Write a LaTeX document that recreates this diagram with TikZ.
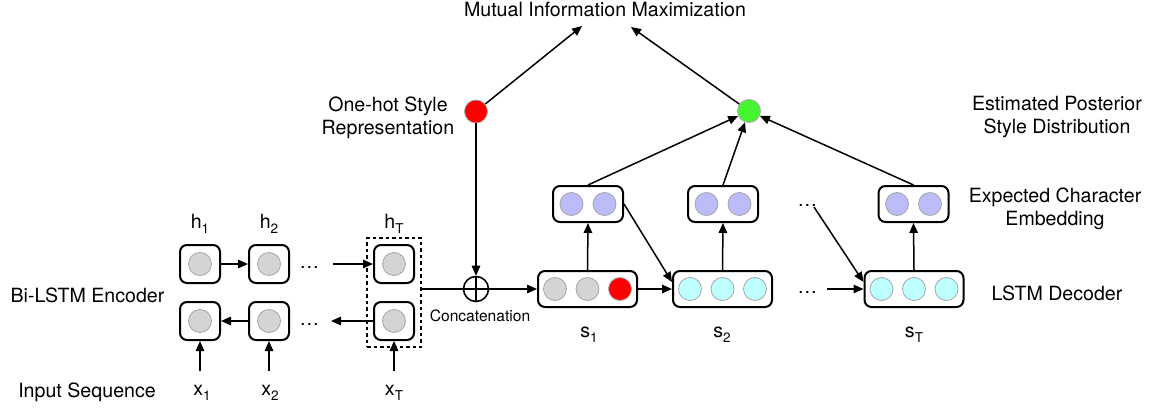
\documentclass[tikz,border=0pt]{standalone}
\usepackage{fontspec}
\setmainfont{TeX Gyre Heros}
\usetikzlibrary{arrows.meta,fit,calc}
\definecolor{cellgray}{RGB}{212,212,212}
\definecolor{rimgray}{RGB}{165,165,165}
\definecolor{cellcyan}{RGB}{190,255,255}
\definecolor{celllav}{RGB}{188,188,248}
\definecolor{hotred}{RGB}{255,0,0}
\definecolor{postgreen}{RGB}{70,245,50}
\newcommand{\lowidx}[1]{\raisebox{-0.3em}{\fontsize{13.5}{13.5}\selectfont #1}}

\begin{document}
\begin{tikzpicture}[x=1pt,y=-1pt,
  cell/.style={draw, line width=2pt, rounded corners=7pt, minimum width=40pt, minimum height=38pt, inner sep=0},
  wide/.style={cell, minimum width=99pt, minimum height=36pt},
  pair/.style={cell, minimum width=70pt, minimum height=36pt},
  unit/.style={circle, draw=rimgray, line width=0.8pt, minimum size=23pt, inner sep=0},
  conn/.style={line width=1.5pt, -{Triangle[length=10pt,width=8.5pt]}},
  lbl/.style={font=\fontsize{19.6}{22.5}\selectfont, align=center, inner sep=0},
  small/.style={font=\fontsize{15.6}{18}\selectfont, inner sep=0},
  idx/.style={lbl, anchor=base},
]
\useasboundingbox (0,0) rectangle (1157,412);

% ---- Bi-LSTM encoder ----
\foreach \n/\x in {1/200,2/269,3/394} {
  \node[cell] (f\n) at (\x,264) {};
  \node[unit, fill=cellgray] (fu\n) at (f\n) {};
  \node[cell] (b\n) at (\x,321) {};
  \node[unit, fill=cellgray] (bu\n) at (b\n) {};
}
\node[draw, line width=1.8pt, dash pattern=on 3.5pt off 3pt, fit=(f3)(b3), inner sep=6pt] (enc) {};

\node[lbl, anchor=base] (fdots) at (309.5,268) {…};
\node[lbl, anchor=base] (bdots) at (309.5,325) {…};
\coordinate (fin) at (333,264);
\coordinate (bout) at (331,321);
\draw[conn] (f1) -- (f2);
\draw[conn] (fin) -- (f3);
\draw[conn] (b2) -- (b1);
\draw[conn] (b3) -- (bout);

\foreach \n/\x in {1/200,2/269,3/394} {
  \coordinate (in\n) at (\x,371);
  \draw[conn] (in\n) -- (b\n);
}
\node[idx] (h1) at (200,228) {h\lowidx{1}};
\node[idx] (h2) at (269,228) {h\lowidx{2}};
\node[idx] (hT) at (394,228) {h\lowidx{T}};
\node[idx] (x1) at (202,395) {x\lowidx{1}};
\node[idx] (x2) at (270,395) {x\lowidx{2}};
\node[idx] (xT) at (394,395) {x\lowidx{T}};

% ---- style code and concatenation ----
\node[unit, fill=hotred] (hot) at (476,111.5) {};
\node[circle, draw, line width=1.6pt, minimum size=25pt, inner sep=0,
  path picture={\draw[line width=1.4pt]
    (path picture bounding box.north) -- (path picture bounding box.south)
    (path picture bounding box.west) -- (path picture bounding box.east);}] (cat) at (476,289) {};
\node[small] (catlbl) at (480,316) {Concatenation};
\draw[line width=1.5pt] (enc.east |- cat) -- (cat);
\draw[conn] (hot) -- (cat);

% ---- LSTM decoder ----
\node[wide] (s1) at (587.5,289) {};
\node[unit, fill=cellgray] (s1a) at ($(s1)+(-32.5,0)$) {};
\node[unit, fill=cellgray] (s1b) at (s1) {};
\node[unit, fill=hotred] (s1c) at ($(s1)+(32.5,0)$) {};
\foreach \s/\x in {2/722.5,T/914} {
  \node[wide] (s\s) at (\x,289) {};
  \node[unit, fill=cellcyan] (s\s a) at ($(s\s)+(-32.5,0)$) {};
  \node[unit, fill=cellcyan] (s\s b) at (s\s) {};
  \node[unit, fill=cellcyan] (s\s c) at ($(s\s)+(32.5,0)$) {};
}
\foreach \s/\x in {1/588,2/723,T/913.5} {
  \node[pair] (e\s) at (\x,204) {};
  \node[unit, fill=celllav] (e\s a) at ($(e\s)+(-16.5,0)$) {};
  \node[unit, fill=celllav] (e\s b) at ($(e\s)+(16.5,0)$) {};
  \draw[conn] (s\s.north) -- (e\s.south);
}
\node[idx] (s1l) at (589,337) {s\lowidx{1}};
\node[idx] (s2l) at (722,337) {s\lowidx{2}};
\node[idx] (sTl) at (914,337) {s\lowidx{T}};

\node[lbl, anchor=base] (sdots) at (807.5,293) {…};
\node[lbl, anchor=base] (edots) at (807.5,206) {…};
\coordinate (sin) at (827,289);
\coordinate (ein) at (814,207);
\draw[conn] (cat) -- (s1);
\draw[conn] (s1) -- (s2);
\draw[conn] (sin) -- (sT);
\draw[conn] (e1.east) -- ($(s2.west)+(0,-7)$);
\draw[conn] (ein) -- ($(sT.west)+(0,-7)$);

% ---- posterior and objective ----
\node[unit, fill=postgreen] (post) at (749,111) {};
\draw[conn] (e1.north) -- (post);
\draw[conn] (e2.north) -- (post);
\draw[conn] (eT.north) -- (post);
\node[lbl] (mim) at (605,9) {Mutual Information Maximization};
\coordinate (mimL) at (582,26);
\coordinate (mimR) at (631,27);
\draw[conn] (hot) -- (mimL);
\draw[conn] (post) -- (mimR);

% ---- row captions ----
\node[lbl] (hotlbl) at (388,118) {One-hot Style\\Representation};
\node[lbl] (postlbl) at (1057,117) {Estimated Posterior\\Style Distribution};
\node[lbl] (emblbl) at (1055,209) {Expected Character\\Embedding};
\node[lbl] (declbl) at (1057,293) {LSTM Decoder};
\node[lbl] (enclbl) at (87.5,295) {Bi-LSTM Encoder};
\node[lbl] (inlbl) at (87,392) {Input Sequence};
\end{tikzpicture}
\end{document}
